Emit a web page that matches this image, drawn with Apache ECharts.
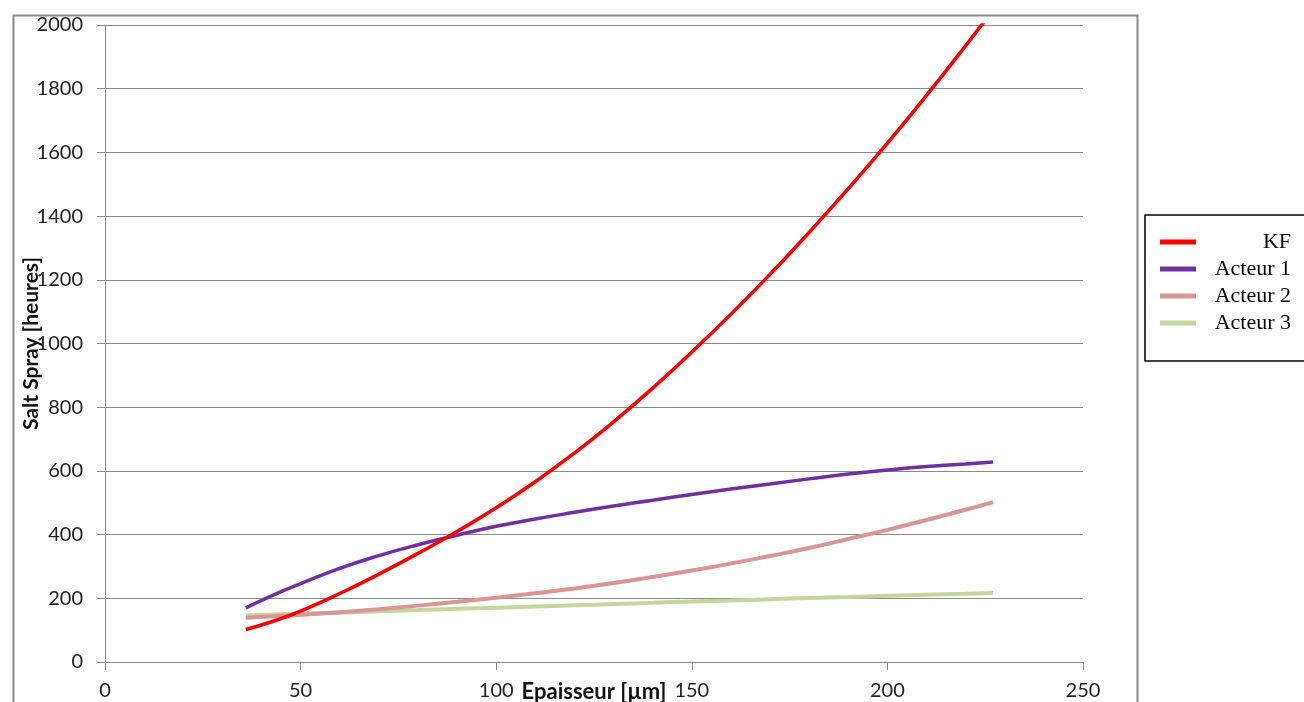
<!DOCTYPE html>
<html>
<head>
<meta charset="utf-8">
<script src="https://cdn.jsdelivr.net/npm/echarts@6/dist/echarts.min.js"></script>
<style>
html,body{margin:0;padding:0;background:#fff;}
#chart{width:1304px;height:702px;}
</style>
</head>
<body>
<div id="chart"></div>
<script>
const thickness = [36,43,50,60,70,80,90,100,110,120,130,140,150,160,170,180,190,200,210,220,227];
const kf      = [102,128,160,215,276,341,410,484,566,656,754,860,973,1092,1217,1349,1486,1629,1779,1935,2048];
const acteur1 = [170,210,246,294,334,368,398,426,449,470,490,508,526,543,559,575,590,603,614,622,628];
const acteur2 = [139,144,148,156,166,177,189,202,216,231,248,267,287,309,333,358,386,415,446,478,502];
const acteur3 = [146,149,152,155,159,163,167,170,174,178,182,186,190,193,197,201,204,208,211,214,217];
const seriesNames = ['KF','Acteur 1','Acteur 2','Acteur 3'];
const xTitle = 'Epaisseur [µm]';
const yTitle = 'Salt Spray [heures]';

function pairs(ys){ return thickness.map((x,i)=>[x, ys[i]]); }

const chart = echarts.init(document.getElementById('chart'));
const labelFont = 'Lato, "Open Sans", sans-serif';
chart.setOption({
  animation:false,
  backgroundColor:'#fff',
  graphic:[{
    type:'rect', left:11, top:13, shape:{width:1124, height:720},
    style:{fill:'none', stroke:'#8a8a8a', lineWidth:2}, silent:true, z:-1
  }],
  grid:{left:105, right:221, top:25, bottom:40, containLabel:false, outerBoundsMode:'none'},
  legend:{
    orient:'vertical', left:1145, top:215,
    padding:[16,14,27,15],
    borderColor:'#000', borderWidth:1.5,
    itemWidth:36, itemHeight:5, itemGap:5,
    icon:'rect',
    data:seriesNames,
    formatter: n => '{a|' + n + '}',
    textStyle:{
      fontFamily:'"Liberation Serif", "Times New Roman", serif', fontSize:22, color:'#000',
      rich:{a:{width:90, align:'right', fontFamily:'"Liberation Serif", serif', fontSize:22, lineHeight:21}}
    }
  },
  xAxis:{
    type:'value', min:0, max:250, interval:50,
    name:xTitle, nameLocation:'middle', nameGap:19, nameMoveOverlap:false,
    nameTextStyle:{fontFamily:labelFont, fontWeight:'bold', fontSize:22, color:'#111'},
    axisLine:{lineStyle:{color:'#8a8a8a', width:1}},
    axisTick:{show:true, length:8, lineStyle:{color:'#8a8a8a'}},
    axisLabel:{margin:19, fontFamily:labelFont, fontSize:20, color:'#222'},
    splitLine:{show:false}
  },
  yAxis:{
    type:'value', min:0, max:2000, interval:200,
    name:yTitle, nameLocation:'middle', nameGap:63, nameRotate:90, nameMoveOverlap:false,
    nameTextStyle:{fontFamily:labelFont, fontWeight:'bold', fontSize:21, color:'#111'},
    axisLine:{show:true, lineStyle:{color:'#8a8a8a', width:1}},
    axisTick:{show:true, length:8, lineStyle:{color:'#8a8a8a'}},
    axisLabel:{margin:22, fontFamily:labelFont, fontSize:20, color:'#222', formatter: v => String(v)},
    splitLine:{show:true, lineStyle:{color:'#8a8a8a', width:1}}
  },
  series:[
    {name:'KF', type:'line', data:pairs(kf), smooth:true, showSymbol:false, clip:true,
     lineStyle:{color:'#ff0000', width:3.5}, itemStyle:{color:'#ff0000'}, z:5},
    {name:'Acteur 1', type:'line', data:pairs(acteur1), smooth:true, showSymbol:false,
     lineStyle:{color:'#7030a0', width:3.5}, itemStyle:{color:'#7030a0'}, z:4},
    {name:'Acteur 2', type:'line', data:pairs(acteur2), smooth:true, showSymbol:false,
     lineStyle:{color:'#d99694', width:4}, itemStyle:{color:'#d99694'}, z:3},
    {name:'Acteur 3', type:'line', data:pairs(acteur3), smooth:true, showSymbol:false,
     lineStyle:{color:'#c3d69b', width:4}, itemStyle:{color:'#c3d69b'}, z:2}
  ]
});
</script>
</body>
</html>
